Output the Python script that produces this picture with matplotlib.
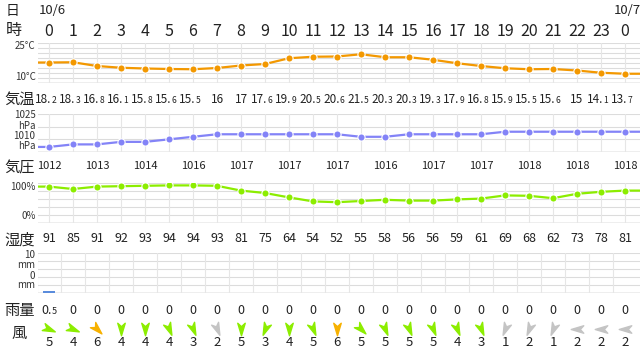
import numpy as np
import matplotlib
matplotlib.use("Agg")
import matplotlib.pyplot as plt
from matplotlib.markers import MarkerStyle
from matplotlib.path import Path
from matplotlib.transforms import Affine2D, blended_transform_factory, offset_copy

plt.rcParams['font.family'] = ['Noto Sans CJK JP', 'DejaVu Sans']

# hourly data, 10/6 0時 .. 10/7 0時
hours = list(range(24)) + [0]
temp = [18.2, 18.3, 16.8, 16.1, 15.8, 15.6, 15.5, 16, 17, 17.6, 19.9, 20.5, 20.6,
        21.5, 20.3, 20.3, 19.3, 17.9, 16.8, 15.9, 15.5, 15.6, 15, 14.1, 13.7]
pressure = [1012, 1013, 1013, 1014, 1014, 1015, 1016, 1017, 1017, 1017, 1017, 1017, 1017,
            1016, 1016, 1017, 1017, 1017, 1017, 1018, 1018, 1018, 1018, 1018, 1018]
pressure_labels = [1012, 1013, 1014, 1016, 1017, 1017, 1017, 1016, 1017, 1017, 1018, 1018, 1018]
humidity = [91, 85, 91, 92, 93, 94, 94, 93, 81, 75, 64, 54, 52, 55, 58, 56, 56, 59, 61,
            69, 68, 62, 73, 78, 81]
rain = [0.5] + [0] * 24
wind_speed = [5, 4, 6, 4, 4, 4, 3, 2, 5, 3, 4, 5, 6, 5, 5, 5, 5, 4, 3, 1, 2, 1, 2, 2, 2]
# direction the arrow points to, degrees (0 = east, -90 = south)
wind_dir = [-22.5, -22.5, -45, -90, -90, -67.5, -67.5, -67.5, -90, -112.5, -90, -67.5, -90,
            -45, -67.5, -67.5, -67.5, -67.5, -67.5, -112.5, -112.5, -112.5, 180, 180, 180]

W, H = 640, 354
fig = plt.figure(figsize=(6.4, 3.54), dpi=100)
fig.patch.set_facecolor('white')

def fy(y):
    return 1 - y / H

def px_rect(top, bottom, left=38, right=640):
    return [left / W, 1 - bottom / H, (right - left) / W, (bottom - top) / H]

x = np.arange(len(hours))
xlim = ((38 - 49) / 24, (640 - 49) / 24)
xe = np.r_[xlim[0], x, xlim[1]]
TXT = '#222222'
AX = '#333333'

def panel(top, bottom, ylim, hgrid, vgrid):
    ax = fig.add_axes(px_rect(top, bottom))
    ax.set_xlim(xlim)
    ax.set_ylim(ylim)
    ax.set_xticks([])
    ax.set_yticks([])
    for s in ax.spines.values():
        s.set_visible(False)
    ax.patch.set_alpha(0)
    for v in hgrid:
        ax.axhline(v, color='#dcdcdc', lw=0.8, zorder=0)
    ax.axhline(ylim[0], color='#b4b4b4', lw=1, zorder=0)
    for v in vgrid:
        ax.axvline(v, color='#e6e6e6', lw=0.8, zorder=0)
    return ax

def line(ax, vals, color):
    ax.plot(xe, np.r_[vals[0], vals, vals[-1]], color=color, lw=1.6, zorder=2)
    ax.plot(x, vals, 'o', ms=5.2, mfc=color, mec='white', mew=0.8, zorder=3)

# panels
ax_t = panel(43, 83, (10, 26), np.arange(10, 27, 2), x)
line(ax_t, temp, '#f39800')
ax_p = panel(114, 152, (1010, 1025), [1010, 1015, 1020, 1025], x)
line(ax_p, pressure, '#8383f7')
ax_h = panel(183, 223, (0, 100), np.arange(0, 101, 20), x)
line(ax_h, humidity, '#8ced00')
ax_r = panel(253, 293, (0, 10), np.arange(0, 11, 2), x - 0.5)
ax_r.bar(x, rain, width=0.5, color='#5a8cdc', zorder=3)

bt = blended_transform_factory(ax_t.transData, fig.transFigure)

def split_num(ax_, h, v, ybase, size):
    s = f'{v:g}'
    if '.' in s:
        a, b = s.split('.')
        tr = offset_copy(bt, fig=fig, x=2.5, units='dots')
        ax_.text(h, fy(ybase), a + '.', transform=tr, ha='right', va='baseline',
                 fontsize=size, color=TXT)
        ax_.text(h, fy(ybase), b, transform=tr, ha='left', va='baseline',
                 fontsize=size * 0.72, color=TXT)
    else:
        ax_.text(h, fy(ybase), s, transform=bt, ha='center', va='baseline',
                 fontsize=size, color=TXT)

# left labels
for s, xx, yy, sz in [('日', 13, 10.5, 10), ('時', 14, 31, 11.5), ('気温', 19.5, 99.5, 11),
                      ('気圧', 19.5, 168, 11), ('湿度', 19.5, 240, 11),
                      ('雨量', 19.5, 311, 11), ('風', 19.5, 333, 11)]:
    fig.text(xx / W, fy(yy), s, ha='center', va='center', fontsize=sz, color=TXT)

fig.text(52 / W, fy(10.5), '10/6', ha='center', va='center', fontsize=9.5, color=TXT)
fig.text(627 / W, fy(10.5), '10/7', ha='center', va='center', fontsize=9.5, color=TXT)

# axis unit labels
for s, yy in [('25°C', 46), ('10°C', 76.5), ('1025', 115), ('hPa', 126), ('1010', 136),
              ('hPa', 146.5), ('100%', 187), ('0%', 216), ('10', 255), ('mm', 265),
              ('0', 276), ('mm', 285.5)]:
    fig.text(35.5 / W, fy(yy), s, ha='right', va='center', fontsize=7, color=AX)

# rows of values
for h, hr in zip(x, hours):
    ax_t.text(h, fy(31), str(hr), transform=bt, ha='center', va='center',
              fontsize=11.5, color=TXT)
for h, v in zip(x, temp):
    split_num(ax_t, h, v, 103, 8.5)
for h, v in zip(x[::2], pressure_labels):
    ax_t.text(h, fy(166), str(v), transform=bt, ha='center', va='center',
              fontsize=8, color=TXT)
for h, v in zip(x, humidity):
    ax_t.text(h, fy(238.5), str(v), transform=bt, ha='center', va='center',
              fontsize=9, color=TXT)
for h, v in zip(x, rain):
    split_num(ax_t, h, v, 314, 9)
for h, v in zip(x, wind_speed):
    ax_t.text(h, fy(343), str(v), transform=bt, ha='center', va='center',
              fontsize=9.5, color=TXT)

# wind arrows
ax_w = fig.add_axes(px_rect(320, 338))
ax_w.set_xlim(xlim)
ax_w.set_ylim(0, 1)
ax_w.axis('off')
arrow = Path([(1, 0), (-1, 0.6), (-0.45, 0), (-1, -0.6), (1, 0)],
             [Path.MOVETO, Path.LINETO, Path.LINETO, Path.LINETO, Path.CLOSEPOLY])
for h, sp, d in zip(x, wind_speed, wind_dir):
    c = '#c4c4c4' if sp <= 2 else ('#8ced00' if sp <= 5 else '#f7b100')
    m = MarkerStyle(arrow, transform=Affine2D().rotate_deg(d))
    ax_w.plot(h, 0.5, marker=m, ms=9, color=c, mec=c, lw=0)

fig.savefig('out.png', dpi=100)
